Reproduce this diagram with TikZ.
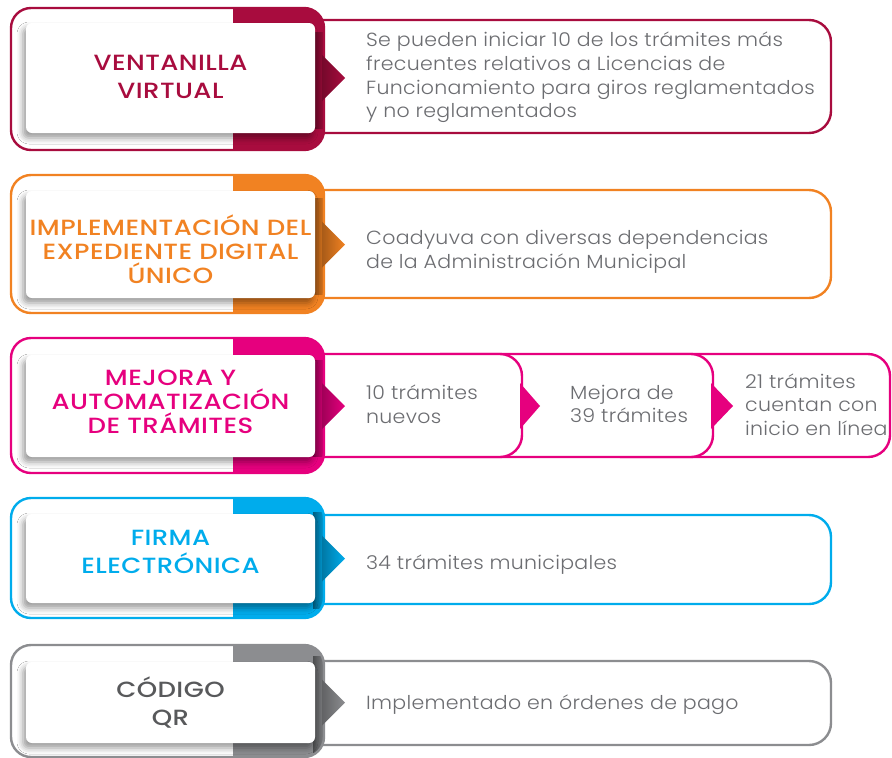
\documentclass[tikz,border=0pt]{standalone}
\usepackage{fontspec}
\usetikzlibrary{shadows.blur}
\newfontfamily\titlefont{Poppins}[UprightFont=* Medium, FakeStretch=1.18, LetterSpace=2]
\newfontfamily\bodyfont{Poppins}[UprightFont=* Light, FakeStretch=1.08, LetterSpace=1.5]
\definecolor{cA}{RGB}{168,12,62}
\definecolor{cB}{RGB}{241,130,34}
\definecolor{cC}{RGB}{230,0,126}
\definecolor{cD}{RGB}{0,172,236}
\definecolor{cE}{RGB}{140,141,144}
\definecolor{cEtext}{RGB}{88,89,91}
\definecolor{bodygray}{RGB}{108,109,113}
\tikzset{
  frameline/.style={line width=2.4pt},
  infobox/.style={draw=#1, line width=2.4pt, fill=white, rounded corners=22pt},
  card/.style={fill=white, rounded corners=6pt, inner sep=0pt,
    minimum width=289pt,
    blur shadow={shadow xshift=-3pt, shadow yshift=-5pt, shadow blur radius=6pt, shadow opacity=40}},
  titletext/.style={inner sep=0pt, align=center},
  twoline/.style={font=\titlefont\fontsize{22}{28}\selectfont},
  threeline/.style={font=\titlefont\fontsize{22}{24}\selectfont},
  bodytext/.style={anchor=west, inner sep=0pt, align=left, text=bodygray,
    font=\bodyfont\fontsize{19}{23.6}\selectfont},
}
% #1 colour, #2 outer top, #3 outer bottom, #4 tip y
\newcommand\rowframe[4]{%
  \fill[white, rounded corners=20pt] (11,#2) rectangle (324,#3);
  \begin{scope}
    \clip (233,{#2-5}) rectangle (335,{#3+5});
    \fill[#1, rounded corners=20pt] (11,#2) rectangle (324,#3);
  \end{scope}
  \begin{scope}
    \clip[rounded corners=20pt] (11,#2) rectangle (324,#3);
    \shade[left color=#1!55!black, right color=#1] (313,{#4-46}) rectangle (327,{#4+50});
  \end{scope}
  \draw[#1, frameline, rounded corners=20pt] (11,#2) rectangle (324,#3);
  \shade[left color=#1!70!black, right color=#1] (322,{#4-23}) -- (345,#4) -- (322,{#4+23}) -- cycle;
}
\begin{document}
\begin{tikzpicture}[x=1pt,y=-1pt]
\useasboundingbox (0,0) rectangle (892,758);

% Row 1
\draw[infobox=cA] (300,20) rectangle (831,133);
\rowframe{cA}{8}{150}{78}
\node[card, minimum height=110pt] (c1) at (170.5,78) {};
\node[titletext, twoline, text=cA] (t1) at (170.5,77) {VENTANILLA\\VIRTUAL};
\node[bodytext] (d1) at (366,77.5) {Se pueden iniciar 10 de los trámites más\\frecuentes relativos a Licencias de\\Funcionamiento para giros reglamentados\\y no reglamentados};

% Row 2
\draw[infobox=cB] (300,190) rectangle (831,298);
\rowframe{cB}{175}{313}{244.5}
\node[card, minimum height=107pt] (c2) at (170.5,244.5) {};
\node[titletext, threeline, text=cB] (t2) at (170.5,249) {IMPLEMENTACIÓN DEL\\EXPEDIENTE DIGITAL\\ÚNICO};
\node[bodytext] (d2) at (366,252) {Coadyuva con diversas dependencias\\de la Administración Municipal};

% Row 3
\draw[infobox=cC] (600,354) rectangle (890,457);
\draw[infobox=cC] (420,354) rectangle (713,457);
\fill[cC] (711,383) -- (733,406) -- (711,429) -- cycle;
\draw[infobox=cC] (300,354) rectangle (522,457);
\fill[cC] (520,383) -- (540,406) -- (520,429) -- cycle;
\rowframe{cC}{338}{473}{406}
\node[card, minimum height=102pt] (c3) at (170.5,406) {};
\node[titletext, threeline, text=cC] (t3) at (170.5,402) {MEJORA Y\\AUTOMATIZACIÓN\\DE TRÁMITES};
\node[bodytext] (d3a) at (366,404) {10 trámites\\nuevos};
\node[bodytext] (d3b) at (570,404) {Mejora de\\39 trámites};
\node[bodytext] (d3c) at (745,404.5) {21 trámites\\cuentan con\\inicio en línea};

% Row 4
\draw[infobox=cD] (300,515) rectangle (831,604);
\rowframe{cD}{498}{618}{558.5}
\node[card, minimum height=89pt] (c4) at (170.5,558.5) {};
\node[titletext, twoline, text=cD] (t4) at (170.5,551.5) {FIRMA\\ELECTRÓNICA};
\node[bodytext] (d4) at (366,565) {34 trámites municipales};

% Row 5
\draw[infobox=cE] (300,661) rectangle (831,745);
\rowframe{cE}{645}{757}{702.5}
\node[card, minimum height=81pt] (c5) at (170.5,702.5) {};
\node[titletext, twoline, text=cEtext] (t5) at (170.5,702.5) {CÓDIGO\\QR};
\node[bodytext] (d5) at (366,704.5) {Implementado en órdenes de pago};
\end{tikzpicture}
\end{document}
